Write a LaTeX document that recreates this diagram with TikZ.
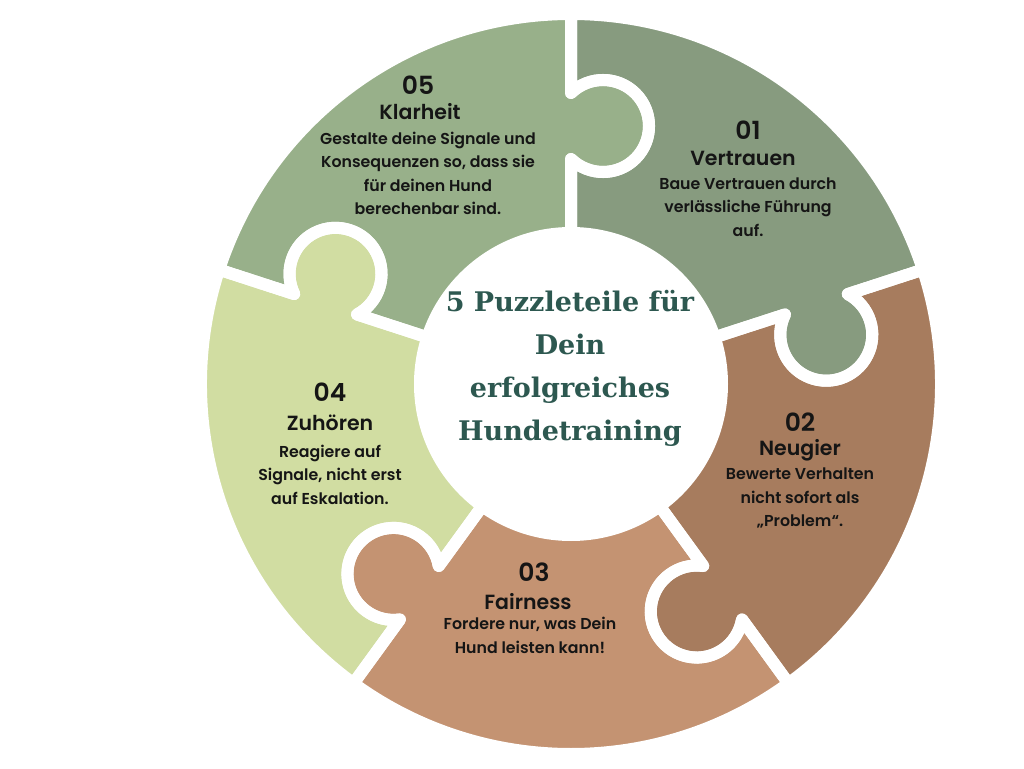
\documentclass[tikz,border=0pt]{standalone}
\usepackage{fontspec}
\usepackage{xcolor}
\usepackage{tikz}
\newfontfamily\labelfont{Poppins SemiBold}
\newfontfamily\titlefont{DejaVu Serif}
\definecolor{vertrauen}{HTML}{879B7F}
\definecolor{neugier}{HTML}{A77C5E}
\definecolor{fairness}{HTML}{C49372}
\definecolor{zuhoeren}{HTML}{D1DDA2}
\definecolor{klarheit}{HTML}{98B08A}
\definecolor{titleteal}{HTML}{2D5850}
\definecolor{ink}{HTML}{151515}
\tikzset{
  piece/.style={insert path={(#1:150) -- (#1:225)
    arc[start angle={#1+135.88},end angle={#1+404.12},radius=46] -- (#1:370)
    arc[start angle=#1,end angle={#1+72},radius=370] -- ({#1+72}:291)
    arc[start angle={#1+116.12},end angle={#1-152.12},radius=46] -- ({#1+72}:150)
    arc[start angle={#1+72},end angle=#1,radius=150] -- cycle}},
  num/.style={font=\labelfont\fontsize{25}{26}\selectfont,text=ink,inner sep=0pt},
  head/.style={font=\labelfont\fontsize{20.5}{22}\selectfont,text=ink,inner sep=0pt},
  body/.style={font=\labelfont\fontsize{15.8}{23.5}\selectfont,text=ink,align=center,inner sep=0pt}
}

\begin{document}
\begin{tikzpicture}[x=1pt,y=1pt]
  \useasboundingbox[fill=white] (-571,-384) rectangle (453,384);
  \foreach \a/\c in {18/vertrauen,-54/neugier,-126/fairness,-198/zuhoeren,90/klarheit}
    \fill[\c] [piece=\a];
  \foreach \a in {18,-54,-126,-198,90}
    \draw[white,line width=12pt,line join=round] [piece=\a];
  \fill[white] (0,0) circle[radius=157];

  \node[align=center,text=titleteal,font=\titlefont\bfseries\fontsize{27}{43}\selectfont] (title) at (-1,15.5)
    {5 Puzzleteile für\\Dein\\erfolgreiches\\Hundetraining};

  \node[num] (n01) at (177,254) {01};
  \node[head] (h01) at (172,226) {Vertrauen};
  \node[body] (b01) at (177,177) {Baue Vertrauen durch\\verlässliche Führung\\auf.};

  \node[num] (n02) at (229,-38) {02};
  \node[head] (h02) at (229,-66) {Neugier};
  \node[body] (b02) at (229,-114) {Bewerte Verhalten\\nicht sofort als\\„Problem“.};

  \node[num] (n03) at (-37,-188) {03};
  \node[head] (h03) at (-43,-218) {Fairness};
  \node[body] (b03) at (-41,-251.5) {Fordere nur, was Dein\\Hund leisten kann!};

  \node[num] (n04) at (-241,-8) {04};
  \node[head] (h04) at (-241,-39) {Zuhören};
  \node[body] (b04) at (-241,-90.5) {Reagiere auf\\Signale, nicht erst\\auf Eskalation.};

  \node[num] (n05) at (-153,299) {05};
  \node[head] (h05) at (-151,272) {Klarheit};
  \node[body] (b05) at (-143,210.5) {Gestalte deine Signale und\\Konsequenzen so, dass sie\\für deinen Hund\\berechenbar sind.};
\end{tikzpicture}
\end{document}
